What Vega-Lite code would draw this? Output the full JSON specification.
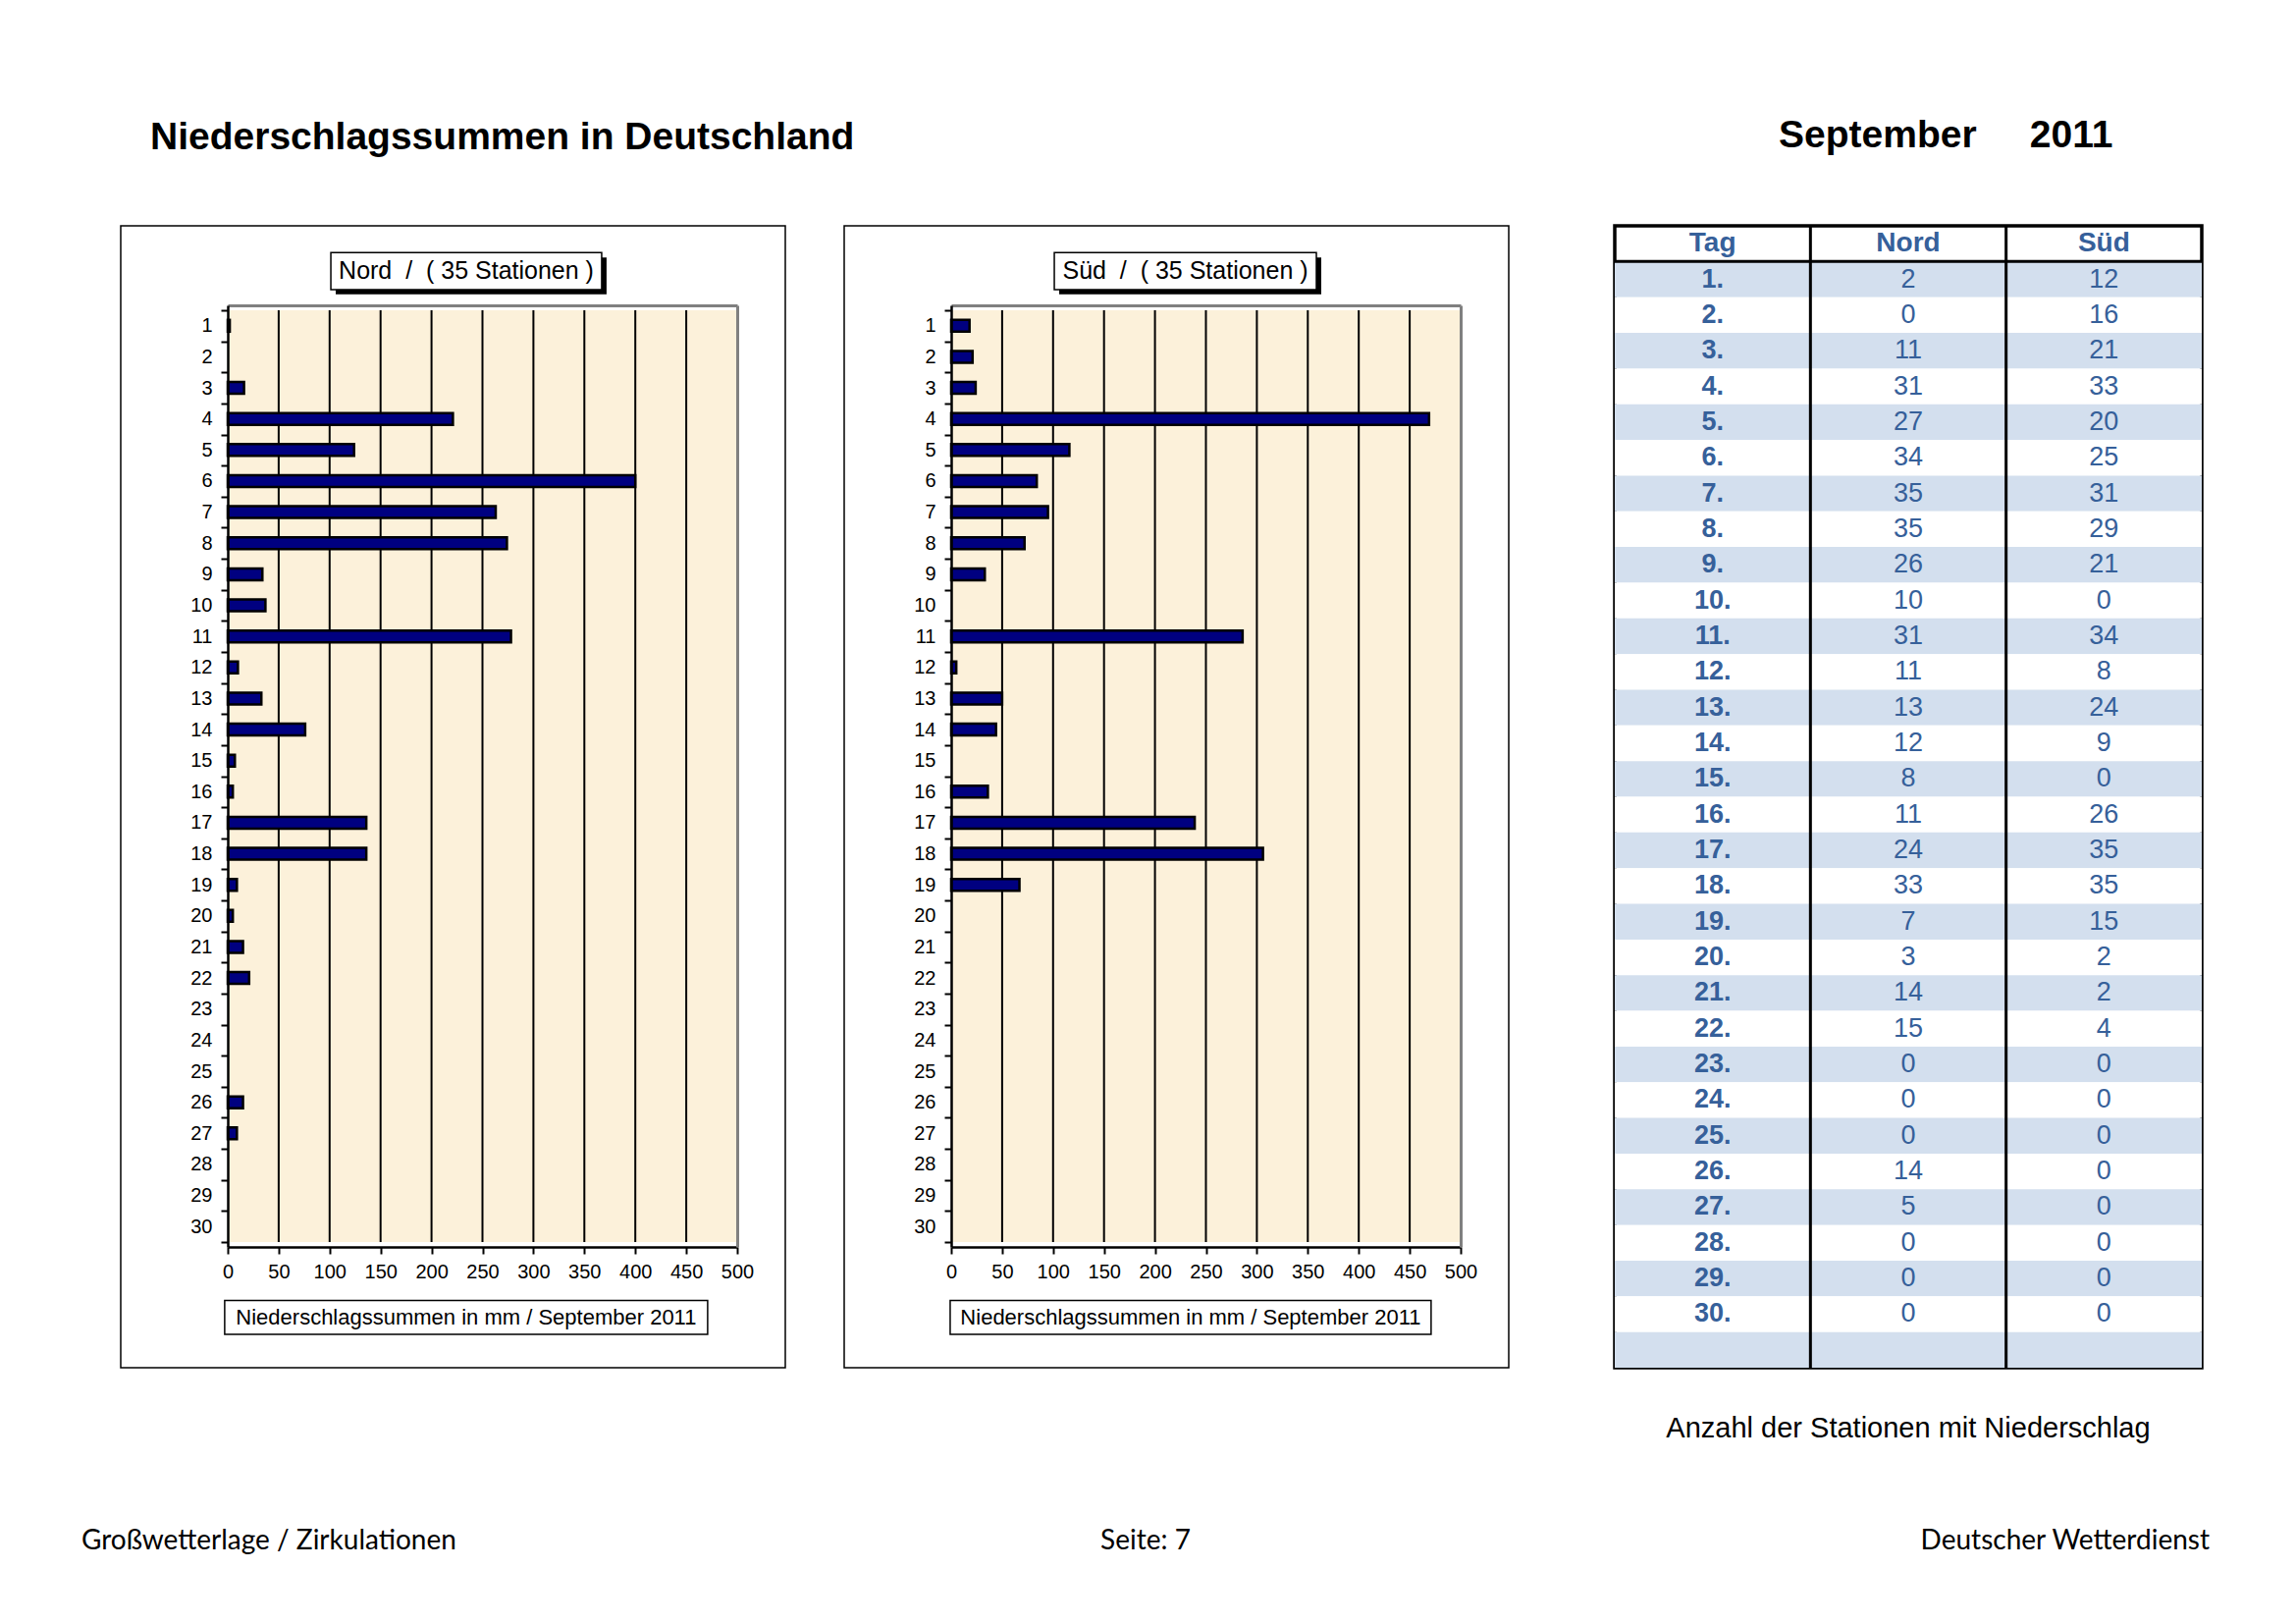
{
  "$schema": "https://vega.github.io/schema/vega-lite/v6.json",
  "background": "#FFFFFF",
  "padding": {"left": 83, "top": 118, "right": 0, "bottom": 0},
  "config": {"view": {"stroke": null}, "font": "Liberation Sans"},
  "datasets": {
    "d": [
      {"day": 1, "tag": "1.", "nord_n": 2, "sued_n": 12, "nord_mm": 2, "sued_mm": 18},
      {"day": 2, "tag": "2.", "nord_n": 0, "sued_n": 16, "nord_mm": 0, "sued_mm": 21},
      {"day": 3, "tag": "3.", "nord_n": 11, "sued_n": 21, "nord_mm": 16, "sued_mm": 24},
      {"day": 4, "tag": "4.", "nord_n": 31, "sued_n": 33, "nord_mm": 221, "sued_mm": 469},
      {"day": 5, "tag": "5.", "nord_n": 27, "sued_n": 20, "nord_mm": 124, "sued_mm": 116},
      {"day": 6, "tag": "6.", "nord_n": 34, "sued_n": 25, "nord_mm": 400, "sued_mm": 84},
      {"day": 7, "tag": "7.", "nord_n": 35, "sued_n": 31, "nord_mm": 263, "sued_mm": 95},
      {"day": 8, "tag": "8.", "nord_n": 35, "sued_n": 29, "nord_mm": 274, "sued_mm": 72},
      {"day": 9, "tag": "9.", "nord_n": 26, "sued_n": 21, "nord_mm": 34, "sued_mm": 33},
      {"day": 10, "tag": "10.", "nord_n": 10, "sued_n": 0, "nord_mm": 37, "sued_mm": 0},
      {"day": 11, "tag": "11.", "nord_n": 31, "sued_n": 34, "nord_mm": 278, "sued_mm": 286},
      {"day": 12, "tag": "12.", "nord_n": 11, "sued_n": 8, "nord_mm": 10, "sued_mm": 5},
      {"day": 13, "tag": "13.", "nord_n": 13, "sued_n": 24, "nord_mm": 33, "sued_mm": 50},
      {"day": 14, "tag": "14.", "nord_n": 12, "sued_n": 9, "nord_mm": 76, "sued_mm": 44},
      {"day": 15, "tag": "15.", "nord_n": 8, "sued_n": 0, "nord_mm": 7, "sued_mm": 0},
      {"day": 16, "tag": "16.", "nord_n": 11, "sued_n": 26, "nord_mm": 5, "sued_mm": 36},
      {"day": 17, "tag": "17.", "nord_n": 24, "sued_n": 35, "nord_mm": 136, "sued_mm": 239},
      {"day": 18, "tag": "18.", "nord_n": 33, "sued_n": 35, "nord_mm": 136, "sued_mm": 306},
      {"day": 19, "tag": "19.", "nord_n": 7, "sued_n": 15, "nord_mm": 9, "sued_mm": 67},
      {"day": 20, "tag": "20.", "nord_n": 3, "sued_n": 2, "nord_mm": 5, "sued_mm": 0},
      {"day": 21, "tag": "21.", "nord_n": 14, "sued_n": 2, "nord_mm": 15, "sued_mm": 0},
      {"day": 22, "tag": "22.", "nord_n": 15, "sued_n": 4, "nord_mm": 21, "sued_mm": 0},
      {"day": 23, "tag": "23.", "nord_n": 0, "sued_n": 0, "nord_mm": 0, "sued_mm": 0},
      {"day": 24, "tag": "24.", "nord_n": 0, "sued_n": 0, "nord_mm": 0, "sued_mm": 0},
      {"day": 25, "tag": "25.", "nord_n": 0, "sued_n": 0, "nord_mm": 0, "sued_mm": 0},
      {"day": 26, "tag": "26.", "nord_n": 14, "sued_n": 0, "nord_mm": 15, "sued_mm": 0},
      {"day": 27, "tag": "27.", "nord_n": 5, "sued_n": 0, "nord_mm": 9, "sued_mm": 0},
      {"day": 28, "tag": "28.", "nord_n": 0, "sued_n": 0, "nord_mm": 0, "sued_mm": 0},
      {"day": 29, "tag": "29.", "nord_n": 0, "sued_n": 0, "nord_mm": 0, "sued_mm": 0},
      {"day": 30, "tag": "30.", "nord_n": 0, "sued_n": 0, "nord_mm": 0, "sued_mm": 0}
    ],
    "grid": [{"mm": 50}, {"mm": 100}, {"mm": 150}, {"mm": 200}, {"mm": 250}, {"mm": 300}, {"mm": 350}, {"mm": 400}, {"mm": 450}]
  },
  "spacing": 78,
  "vconcat": [
    {
      "spacing": 103,
      "hconcat": [
        {
          "spacing": 58,
          "title": {"text": "Niederschlagssummen in Deutschland", "anchor": "start", "frame": "group", "dx": 30, "offset": 69, "fontSize": 39, "fontWeight": "bold", "font": "Liberation Sans", "color": "#000000"},
          "hconcat": [
            {
              "width": 677, "height": 1163,
              "view": {"stroke": "#000000", "strokeWidth": 1.5, "fill": "#FFFFFF"},
              "resolve": {"axis": {"x": "independent", "y": "independent"}},
              "layer": [
                {
                  "data": {"values": [{}]},
                  "mark": {"type": "rect", "fill": "#FCF1DA"},
                  "encoding": {
                    "x": {"datum": 0, "type": "quantitative", "scale": {"domain": [0, 500], "range": [109, 628], "nice": false, "zero": false}, "axis": {"orient": "top", "offset": -81, "domainColor": "#808080", "domainWidth": 3, "ticks": false, "labels": false, "grid": false, "title": null, "zindex": 1}},
                    "x2": {"datum": 500},
                    "y": {"datum": 0.5, "type": "quantitative", "scale": {"domain": [0.5, 30.5], "range": [81, 1040], "nice": false, "zero": false}, "axis": {"orient": "right", "offset": -49, "domainColor": "#808080", "domainWidth": 3, "ticks": false, "labels": false, "grid": false, "title": null, "zindex": 1}},
                    "y2": {"datum": 30.5}
                  }
                },
                {
                  "data": {"name": "grid"},
                  "mark": {"type": "rule", "color": "#000000", "strokeWidth": 2},
                  "encoding": {
                    "x": {"field": "mm", "type": "quantitative", "axis": null},
                    "y": {"datum": 0.5, "type": "quantitative", "axis": null},
                    "y2": {"datum": 30.5}
                  }
                },
                {
                  "data": {"name": "d"},
                  "transform": [{"filter": "datum.nord_mm > 0"}],
                  "mark": {"type": "bar", "orient": "horizontal", "height": 12, "fill": "#000080", "stroke": "#000000", "strokeWidth": 2.5},
                  "encoding": {
                    "x": {"field": "nord_mm", "type": "quantitative", "axis": {"orient": "bottom", "offset": -123, "values": [0, 50, 100, 150, 200, 250, 300, 350, 400, 450, 500], "grid": false, "domainColor": "#000000", "domainWidth": 2.5, "tickColor": "#000000", "tickWidth": 2, "tickSize": 7, "labelFontSize": 20, "labelColor": "#000000", "labelFont": "Liberation Sans", "labelPadding": 8, "labelFlush": false, "labelOverlap": false, "title": null, "zindex": 1}},
                    "y": {"field": "day", "type": "quantitative", "axis": {"orient": "left", "offset": -109, "values": [1,2,3,4,5,6,7,8,9,10,11,12,13,14,15,16,17,18,19,20,21,22,23,24,25,26,27,28,29,30], "grid": false, "domain": false, "ticks": false, "labelFontSize": 20, "labelColor": "#000000", "labelFont": "Liberation Sans", "labelPadding": 16, "labelOverlap": false, "labelFlush": false, "title": null, "zindex": 1}}
                  }
                },
                {
                  "data": {"values": [{}]},
                  "mark": {"type": "rect", "fill": "#000000"},
                  "encoding": {
                    "x": {"datum": 106, "type": "quantitative", "axis": null},
                    "x2": {"datum": 371.8},
                    "y": {"datum": -1.2, "type": "quantitative", "axis": {"orient": "left", "offset": -109, "values": [0.5,1.5,2.5,3.5,4.5,5.5,6.5,7.5,8.5,9.5,10.5,11.5,12.5,13.5,14.5,15.5,16.5,17.5,18.5,19.5,20.5,21.5,22.5,23.5,24.5,25.5,26.5,27.5,28.5,29.5,30.5], "labels": false, "grid": false, "ticks": true, "tickSize": 7, "tickWidth": 2, "tickColor": "#000000", "domain": true, "domainColor": "#000000", "domainWidth": 2.5, "title": null, "zindex": 1}},
                    "y2": {"datum": -0.01}
                  }
                },
                {
                  "data": {"values": [{}]},
                  "mark": {"type": "rect", "fill": "#FFFFFF", "stroke": "#000000", "strokeWidth": 1.5},
                  "encoding": {
                    "x": {"datum": 101.2, "type": "quantitative", "axis": null},
                    "x2": {"datum": 367},
                    "y": {"datum": -1.356, "type": "quantitative", "axis": null},
                    "y2": {"datum": -0.166}
                  }
                },
                {
                  "data": {"values": [{"t": "Nord\u00a0\u00a0/\u00a0\u00a0(\u00a035\u00a0Stationen\u00a0)"}]},
                  "mark": {"type": "text", "font": "Liberation Sans", "fontSize": 25, "align": "center", "baseline": "middle", "color": "#000000"},
                  "encoding": {
                    "x": {"datum": 234.1, "type": "quantitative", "axis": null},
                    "y": {"datum": -0.761, "type": "quantitative", "axis": null},
                    "text": {"field": "t"}
                  }
                },
                {
                  "data": {"values": [{}]},
                  "mark": {"type": "rect", "fill": "#FFFFFF", "stroke": "#000000", "strokeWidth": 1.5},
                  "encoding": {
                    "x": {"datum": -3, "type": "quantitative", "axis": null},
                    "x2": {"datum": 471},
                    "y": {"datum": 32.379, "type": "quantitative", "axis": null},
                    "y2": {"datum": 33.475}
                  }
                },
                {
                  "data": {"values": [{"t": "Niederschlagssummen in mm / September 2011"}]},
                  "mark": {"type": "text", "font": "Liberation Sans", "fontSize": 22, "align": "center", "baseline": "middle", "color": "#000000"},
                  "encoding": {
                    "x": {"datum": 234, "type": "quantitative", "axis": null},
                    "y": {"datum": 32.927, "type": "quantitative", "axis": null},
                    "text": {"field": "t"}
                  }
                }
              ]
            },
            {
              "width": 677, "height": 1163,
              "view": {"stroke": "#000000", "strokeWidth": 1.5, "fill": "#FFFFFF"},
              "resolve": {"axis": {"x": "independent", "y": "independent"}},
              "layer": [
                {
                  "data": {"values": [{}]},
                  "mark": {"type": "rect", "fill": "#FCF1DA"},
                  "encoding": {
                    "x": {"datum": 0, "type": "quantitative", "scale": {"domain": [0, 500], "range": [109, 628], "nice": false, "zero": false}, "axis": {"orient": "top", "offset": -81, "domainColor": "#808080", "domainWidth": 3, "ticks": false, "labels": false, "grid": false, "title": null, "zindex": 1}},
                    "x2": {"datum": 500},
                    "y": {"datum": 0.5, "type": "quantitative", "scale": {"domain": [0.5, 30.5], "range": [81, 1040], "nice": false, "zero": false}, "axis": {"orient": "right", "offset": -49, "domainColor": "#808080", "domainWidth": 3, "ticks": false, "labels": false, "grid": false, "title": null, "zindex": 1}},
                    "y2": {"datum": 30.5}
                  }
                },
                {
                  "data": {"name": "grid"},
                  "mark": {"type": "rule", "color": "#000000", "strokeWidth": 2},
                  "encoding": {
                    "x": {"field": "mm", "type": "quantitative", "axis": null},
                    "y": {"datum": 0.5, "type": "quantitative", "axis": null},
                    "y2": {"datum": 30.5}
                  }
                },
                {
                  "data": {"name": "d"},
                  "transform": [{"filter": "datum.sued_mm > 0"}],
                  "mark": {"type": "bar", "orient": "horizontal", "height": 12, "fill": "#000080", "stroke": "#000000", "strokeWidth": 2.5},
                  "encoding": {
                    "x": {"field": "sued_mm", "type": "quantitative", "axis": {"orient": "bottom", "offset": -123, "values": [0, 50, 100, 150, 200, 250, 300, 350, 400, 450, 500], "grid": false, "domainColor": "#000000", "domainWidth": 2.5, "tickColor": "#000000", "tickWidth": 2, "tickSize": 7, "labelFontSize": 20, "labelColor": "#000000", "labelFont": "Liberation Sans", "labelPadding": 8, "labelFlush": false, "labelOverlap": false, "title": null, "zindex": 1}},
                    "y": {"field": "day", "type": "quantitative", "axis": {"orient": "left", "offset": -109, "values": [1,2,3,4,5,6,7,8,9,10,11,12,13,14,15,16,17,18,19,20,21,22,23,24,25,26,27,28,29,30], "grid": false, "domain": false, "ticks": false, "labelFontSize": 20, "labelColor": "#000000", "labelFont": "Liberation Sans", "labelPadding": 16, "labelOverlap": false, "labelFlush": false, "title": null, "zindex": 1}}
                  }
                },
                {
                  "data": {"values": [{}]},
                  "mark": {"type": "rect", "fill": "#000000"},
                  "encoding": {
                    "x": {"datum": 106, "type": "quantitative", "axis": null},
                    "x2": {"datum": 363.2},
                    "y": {"datum": -1.2, "type": "quantitative", "axis": {"orient": "left", "offset": -109, "values": [0.5,1.5,2.5,3.5,4.5,5.5,6.5,7.5,8.5,9.5,10.5,11.5,12.5,13.5,14.5,15.5,16.5,17.5,18.5,19.5,20.5,21.5,22.5,23.5,24.5,25.5,26.5,27.5,28.5,29.5,30.5], "labels": false, "grid": false, "ticks": true, "tickSize": 7, "tickWidth": 2, "tickColor": "#000000", "domain": true, "domainColor": "#000000", "domainWidth": 2.5, "title": null, "zindex": 1}},
                    "y2": {"datum": -0.01}
                  }
                },
                {
                  "data": {"values": [{}]},
                  "mark": {"type": "rect", "fill": "#FFFFFF", "stroke": "#000000", "strokeWidth": 1.5},
                  "encoding": {
                    "x": {"datum": 101.2, "type": "quantitative", "axis": null},
                    "x2": {"datum": 358.4},
                    "y": {"datum": -1.356, "type": "quantitative", "axis": null},
                    "y2": {"datum": -0.166}
                  }
                },
                {
                  "data": {"values": [{"t": "Süd\u00a0\u00a0/\u00a0\u00a0(\u00a035\u00a0Stationen\u00a0)"}]},
                  "mark": {"type": "text", "font": "Liberation Sans", "fontSize": 25, "align": "center", "baseline": "middle", "color": "#000000"},
                  "encoding": {
                    "x": {"datum": 229.8, "type": "quantitative", "axis": null},
                    "y": {"datum": -0.761, "type": "quantitative", "axis": null},
                    "text": {"field": "t"}
                  }
                },
                {
                  "data": {"values": [{}]},
                  "mark": {"type": "rect", "fill": "#FFFFFF", "stroke": "#000000", "strokeWidth": 1.5},
                  "encoding": {
                    "x": {"datum": -1, "type": "quantitative", "axis": null},
                    "x2": {"datum": 471},
                    "y": {"datum": 32.379, "type": "quantitative", "axis": null},
                    "y2": {"datum": 33.475}
                  }
                },
                {
                  "data": {"values": [{"t": "Niederschlagssummen in mm / September 2011"}]},
                  "mark": {"type": "text", "font": "Liberation Sans", "fontSize": 22, "align": "center", "baseline": "middle", "color": "#000000"},
                  "encoding": {
                    "x": {"datum": 235, "type": "quantitative", "axis": null},
                    "y": {"datum": 32.927, "type": "quantitative", "axis": null},
                    "text": {"field": "t"}
                  }
                }
              ]
            }
          ]
        },
        {
          "title": {"text": "September\u00a0\u00a0\u00a0\u00a0\u00a02011", "anchor": "start", "frame": "group", "dx": 167, "offset": 69, "fontSize": 39, "fontWeight": "bold", "font": "Liberation Sans", "color": "#000000"},
          "vconcat": [
            {
              "width": 598, "height": 1163,
              "view": {"stroke": "#000000", "strokeWidth": 3.5, "fill": "#FFFFFF"},
              "title": {"text": "Anzahl der Stationen mit Niederschlag", "orient": "bottom", "anchor": "middle", "offset": 46, "fontSize": 29, "fontWeight": "normal", "font": "Liberation Sans", "color": "#000000"},
              "layer": [
                {
                  "data": {"name": "d"},
                  "mark": {"type": "rect"},
                  "encoding": {
                    "y": {"field": "day", "type": "ordinal", "scale": {"domain": ["h",1,2,3,4,5,6,7,8,9,10,11,12,13,14,15,16,17,18,19,20,21,22,23,24,25,26,27,28,29,30,"e"], "paddingInner": 0, "paddingOuter": 0}, "axis": null},
                    "fill": {"condition": {"test": "datum.day % 2 == 1", "value": "#D3DFEE"}, "value": "#FFFFFF"}
                  }
                },
                {
                  "data": {"values": [{}]},
                  "mark": {"type": "rect", "fill": "#D3DFEE"},
                  "encoding": {
                    "y": {"datum": "e", "type": "ordinal", "axis": null}
                  }
                },
                {
                  "data": {"values": [{"c": "Nord"}, {"c": "Süd"}]},
                  "mark": {"type": "rule", "color": "#000000", "strokeWidth": 3},
                  "encoding": {
                    "x": {"field": "c", "type": "nominal", "bandPosition": 0, "scale": {"type": "band", "domain": ["Tag", "Nord", "Süd"], "paddingInner": 0, "paddingOuter": 0}, "axis": null}
                  }
                },
                {
                  "data": {"values": [{}]},
                  "mark": {"type": "rule", "color": "#000000", "strokeWidth": 3},
                  "encoding": {
                    "y": {"datum": 1, "type": "ordinal", "bandPosition": 0, "axis": null}
                  }
                },
                {
                  "data": {"values": [{"c": "Tag"}, {"c": "Nord"}, {"c": "Süd"}]},
                  "mark": {"type": "text", "font": "Liberation Sans", "fontSize": 28, "fontWeight": "bold", "align": "center", "baseline": "middle", "color": "#36609A"},
                  "encoding": {
                    "x": {"field": "c", "type": "nominal", "axis": null},
                    "y": {"datum": "h", "type": "ordinal", "axis": null},
                    "text": {"field": "c"}
                  }
                },
                {
                  "data": {"name": "d"},
                  "mark": {"type": "text", "font": "Liberation Sans", "fontSize": 27, "fontWeight": "bold", "align": "center", "baseline": "middle", "color": "#36609A"},
                  "encoding": {
                    "x": {"datum": "Tag", "type": "nominal", "axis": null},
                    "y": {"field": "day", "type": "ordinal", "axis": null},
                    "text": {"field": "tag"}
                  }
                },
                {
                  "data": {"name": "d"},
                  "mark": {"type": "text", "font": "Liberation Sans", "fontSize": 27, "align": "center", "baseline": "middle", "color": "#36609A"},
                  "encoding": {
                    "x": {"datum": "Nord", "type": "nominal", "axis": null},
                    "y": {"field": "day", "type": "ordinal", "axis": null},
                    "text": {"field": "nord_n", "type": "quantitative"}
                  }
                },
                {
                  "data": {"name": "d"},
                  "mark": {"type": "text", "font": "Liberation Sans", "fontSize": 27, "align": "center", "baseline": "middle", "color": "#36609A"},
                  "encoding": {
                    "x": {"datum": "Süd", "type": "nominal", "axis": null},
                    "y": {"field": "day", "type": "ordinal", "axis": null},
                    "text": {"field": "sued_n", "type": "quantitative"}
                  }
                }
              ]
            }
          ]
        }
      ]
    },
    {
      "width": 2100, "height": 40,
      "layer": [
        {
          "data": {"values": [{"t": "Großwetterlage / Zirkulationen"}]},
          "mark": {"type": "text", "font": "Lato", "fontSize": 28, "align": "left", "baseline": "middle", "color": "#000000"},
          "encoding": {
            "x": {"datum": 0, "type": "quantitative", "scale": {"domain": [0, 1], "range": [-40, 2128], "nice": false, "zero": false}, "axis": null},
            "text": {"field": "t"}
          }
        },
        {
          "data": {"values": [{"t": "Seite: 7"}]},
          "mark": {"type": "text", "font": "Lato", "fontSize": 28, "align": "center", "baseline": "middle", "color": "#000000"},
          "encoding": {
            "x": {"datum": 0.5, "type": "quantitative", "axis": null},
            "text": {"field": "t"}
          }
        },
        {
          "data": {"values": [{"t": "Deutscher Wetterdienst"}]},
          "mark": {"type": "text", "font": "Lato", "fontSize": 28, "align": "right", "baseline": "middle", "color": "#000000"},
          "encoding": {
            "x": {"datum": 1, "type": "quantitative", "axis": null},
            "text": {"field": "t"}
          }
        }
      ]
    }
  ]
}
